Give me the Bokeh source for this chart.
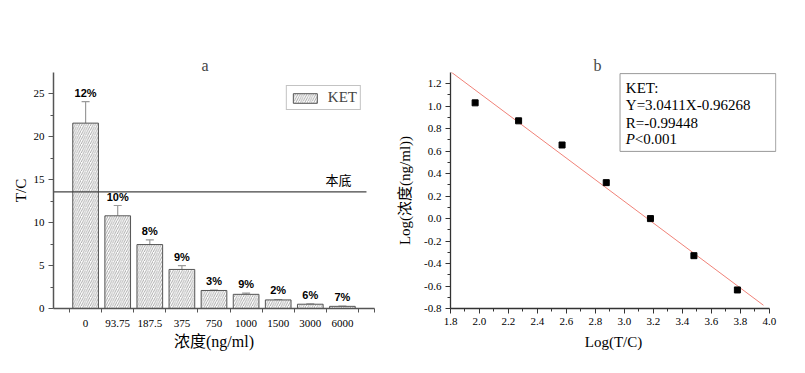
from bokeh.plotting import figure
from bokeh.layouts import row
from bokeh.models import (FixedTicker, ColumnDataSource, Whisker, TeeHead, Range1d,
                          NumeralTickFormatter)
from bokeh.core.properties import value
from bokeh.embed import file_html
from bokeh.resources import INLINE

# ---------------- data (panel a) ----------------
categories = ["0", "93.75", "187.5", "375", "750", "1000", "1500", "3000", "6000"]
tc_mean = [21.6, 10.8, 7.45, 4.55, 2.1, 1.65, 1.0, 0.5, 0.25]
tc_err = [2.5, 1.2, 0.55, 0.45, 0.05, 0.15, 0.05, 0.05, 0.03]
cv_labels = ["12%", "10%", "8%", "9%", "3%", "9%", "2%", "6%", "7%"]
baseline = 13.6
y_ticks_a = [0, 5, 10, 15, 20, 25]

# ---------------- data (panel b) ----------------
log_x = [1.97, 2.27, 2.57, 2.875, 3.18, 3.48, 3.78]
log_y = [1.03, 0.87, 0.655, 0.32, 0.0, -0.33, -0.635]
fit_slope = -0.96268
fit_intercept = 3.0411
fit_x = [1.8, 3.96]
x_ticks_b = [1.8, 2.0, 2.2, 2.4, 2.6, 2.8, 3.0, 3.2, 3.4, 3.6, 3.8, 4.0]
y_ticks_b = [-0.8, -0.6, -0.4, -0.2, 0.0, 0.2, 0.4, 0.6, 0.8, 1.0, 1.2]
box_lines = ["KET:", "Y=3.0411X-0.96268", "R=-0.99448"]
p_text = ["P", "<0.001"]

SERIF = "Liberation Serif, Noto Sans CJK SC"
CJK = "Noto Sans CJK SC"

# ================= panel a =================
positions = [float(i + 1) for i in range(len(categories))]
upper = [m + e for m, e in zip(tc_mean, tc_err)]
src = ColumnDataSource(dict(x=positions, top=tc_mean, upper=upper, cv=cv_labels))

p1 = figure(width=394, height=373, x_range=Range1d(0, 10), y_range=Range1d(0, 27.5),
            output_backend="svg", toolbar_location=None, title="a",
            min_border_left=53, min_border_right=20, min_border_top=72, min_border_bottom=65)
p1.outline_line_color = None
p1.grid.visible = False
p1.title.text_font = SERIF
p1.title.text_font_size = "16px"
p1.title.text_font_style = "normal"
p1.title.align = "left"
p1.title.offset = 148
p1.title.standoff = -2

p1.vbar(x="x", top="top", width=0.8, source=src, fill_color="white", line_color="#555",
        line_width=1, hatch_pattern="/", hatch_color="#707070", hatch_scale=4.5,
        hatch_weight=0.6, legend_label="KET")

wh = Whisker(source=src, base="x", upper="upper", lower="top", line_color="#9a9a9a",
             line_width=1.2, upper_head=TeeHead(size=8, line_color="#9a9a9a", line_width=1.2),
             lower_head=None)
p1.add_layout(wh)

p1.text(x="x", y="upper", text="cv", source=src, text_align="center", text_baseline="bottom",
        y_offset=-3, text_font=value("Liberation Sans"), text_font_style="bold",
        text_font_size="11px", text_color="black")

p1.segment(x0=[0], y0=[baseline], x1=[9.75], y1=[baseline], line_color="#444", line_width=1.2)
p1.text(x=[8.88], y=[baseline], text=["本底"], text_align="center", text_baseline="bottom",
        y_offset=-3, text_font=value(CJK), text_font_size="13px", text_color="black")

minor_a = [p - 0.5 for p in positions] + [positions[-1] + 0.5, positions[-1] + 1.0]
p1.xaxis.ticker = FixedTicker(ticks=positions, minor_ticks=minor_a)
p1.xaxis.major_label_overrides = {p: c for p, c in zip(positions, categories)}
p1.xaxis.major_tick_out = 0
p1.xaxis.major_tick_in = 0
p1.xaxis.minor_tick_out = 4
p1.xaxis.minor_tick_in = 0
p1.xaxis.major_label_standoff = 7
p1.xaxis.axis_label = "浓度(ng/ml)"
p1.xaxis.axis_label_standoff = 3

p1.yaxis.ticker = FixedTicker(ticks=y_ticks_a, minor_ticks=[t + 2.5 for t in y_ticks_a[:-1]])
p1.yaxis.major_tick_out = 5
p1.yaxis.major_tick_in = 0
p1.yaxis.minor_tick_out = 3
p1.yaxis.minor_tick_in = 0
p1.yaxis.major_label_standoff = 4
p1.yaxis.axis_label = "T/C"
p1.yaxis.axis_label_standoff = 2

for ax in (p1.xaxis[0], p1.yaxis[0]):
    ax.axis_line_color = "#555"
    ax.axis_line_width = 1.5
    ax.major_tick_line_color = "#555"
    ax.minor_tick_line_color = "#555"
    ax.major_label_text_font = SERIF
    ax.major_label_text_font_size = "11px"
    ax.major_label_text_color = "black"
    ax.axis_label_text_font = SERIF
    ax.axis_label_text_font_style = "normal"
    ax.axis_label_text_color = "black"
p1.xaxis.axis_label_text_font_size = "16px"
p1.yaxis.axis_label_text_font_size = "15px"

lg = p1.legend[0]
lg.location = "top_right"
lg.margin = 13
lg.padding = 3
lg.spacing = 0
lg.glyph_width = 30
lg.glyph_height = 12
lg.label_height = 12
lg.label_standoff = 8
lg.label_text_font = SERIF
lg.label_text_font_size = "15px"
lg.border_line_color = "#888"
lg.border_line_width = 1
lg.background_fill_alpha = 1

# ================= panel b =================
p2 = figure(width=411, height=373, x_range=Range1d(1.8, 4.05), y_range=Range1d(-0.8, 1.3),
            output_backend="svg", toolbar_location=None, title="b",
            min_border_left=55, min_border_right=29, min_border_top=72, min_border_bottom=64)
p2.outline_line_color = None
p2.grid.visible = False
p2.title.text_font = SERIF
p2.title.text_font_size = "16px"
p2.title.text_font_style = "normal"
p2.title.align = "left"
p2.title.offset = 143
p2.title.standoff = -2

fit_y = [fit_intercept + fit_slope * x for x in fit_x]
p2.line(x=fit_x, y=fit_y, line_color="#f08278", line_width=1)
p2.scatter(x=log_x, y=log_y, marker="square", size=6, fill_color="black", line_color="black")

p2.quad(left=[2.97], right=[4.045], top=[1.29], bottom=[0.598], fill_color="white",
        line_color="#999", line_width=1)
p2.text(x=[3.01] * 3, y=[1.165, 1.014, 0.855], text=box_lines, text_baseline="middle",
        text_align="left", text_font=value("Liberation Serif"), text_font_size="15px",
        text_color="black")
p2.text(x=[3.01], y=[0.704], text=[p_text[0]], text_baseline="middle", text_align="left",
        text_font=value("Liberation Serif"), text_font_size="15px", text_font_style="italic",
        text_color="black")
p2.text(x=[3.01], y=[0.704], text=[p_text[1]], x_offset=9, text_baseline="middle",
        text_align="left", text_font=value("Liberation Serif"), text_font_size="15px",
        text_color="black")

p2.xaxis.bounds = (1.8, 4.0)
p2.xaxis.ticker = FixedTicker(ticks=x_ticks_b,
                              minor_ticks=[(a + b) / 2 for a, b in zip(x_ticks_b[:-1], x_ticks_b[1:])])
p2.yaxis.ticker = FixedTicker(ticks=y_ticks_b,
                              minor_ticks=[(a + b) / 2 for a, b in zip(y_ticks_b[:-1], y_ticks_b[1:])])
p2.xaxis.formatter = NumeralTickFormatter(format="0.0")
p2.yaxis.formatter = NumeralTickFormatter(format="0.0")
p2.xaxis.axis_label = "Log(T/C)"
p2.yaxis.axis_label = "Log(浓度(ng/ml))"
for ax in (p2.xaxis[0], p2.yaxis[0]):
    ax.axis_line_color = "#333"
    ax.axis_line_width = 1.3
    ax.major_tick_line_color = "#333"
    ax.minor_tick_line_color = "#333"
    ax.major_tick_out = 5
    ax.major_tick_in = 0
    ax.minor_tick_out = 3
    ax.minor_tick_in = 0
    ax.major_label_standoff = 4
    ax.major_label_text_font = SERIF
    ax.major_label_text_font_size = "11px"
    ax.major_label_text_color = "black"
    ax.axis_label_text_font = SERIF
    ax.axis_label_text_font_style = "normal"
    ax.axis_label_text_font_size = "15px"
    ax.axis_label_text_color = "black"
p2.yaxis.axis_label_standoff = 8
p2.xaxis.axis_label_standoff = 6

layout = row(p1, p2)
open("out.html", "w").write(file_html(layout, INLINE))
